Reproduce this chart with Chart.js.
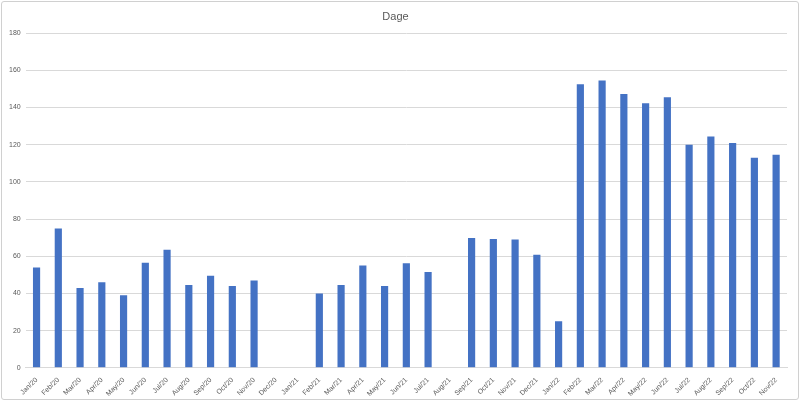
<!DOCTYPE html>
<html>
<head>
<meta charset="utf-8">
<title>Dage</title>
<script src="https://cdn.jsdelivr.net/npm/chart.js@4"></script>
<style>
    html, body { margin: 0; padding: 0; background: #fff; }
    #wrap {
        position: relative;
        width: 798px;
        height: 399px;
        margin: 1px;
        border: 1px solid #d0d0d0;
        border-radius: 3px;
        box-sizing: border-box;
    }
    #chart { display: block; }
</style>
</head>
<body>
<div id="wrap"><canvas id="chart"></canvas></div>
<script>
// Chart data
const months = [
    'Jan/20', 'Feb/20', 'Mar/20', 'Apr/20', 'May/20', 'Jun/20', 'Jul/20', 'Aug/20', 'Sep/20', 'Oct/20', 'Nov/20', 'Dec/20',
    'Jan/21', 'Feb/21', 'Mar/21', 'Apr/21', 'May/21', 'Jun/21', 'Jul/21', 'Aug/21', 'Sep/21', 'Oct/21', 'Nov/21', 'Dec/21',
    'Jan/22', 'Feb/22', 'Mar/22', 'Apr/22', 'May/22', 'Jun/22', 'Jul/22', 'Aug/22', 'Sep/22', 'Oct/22', 'Nov/22'
];
const dage = [
    54, 75, 43, 46, 39, 56.5, 63.5, 44.5, 49.5, 44, 47, 0,
    0, 40, 44.5, 55, 44, 56.3, 51.6, 0, 69.8, 69.3, 69, 60.8,
    25, 152.5, 154.5, 147.3, 142.3, 145.6, 120, 124.4, 121, 113, 114.6
];
const yTicks = [0, 20, 40, 60, 80, 100, 120, 140, 160, 180];

const textGray = '#595959';
const gridGray = '#d9d9d9';

document.addEventListener('DOMContentLoaded', () => {
    const ctx = document.getElementById('chart').getContext('2d');
    new Chart(ctx, {
        type: 'bar',
        data: {
            labels: months,
            datasets: [{
                label: 'Dage',
                data: dage,
                backgroundColor: '#4472c4',
                borderWidth: 0,
                categoryPercentage: 1.0,
                barPercentage: 0.33
            }]
        },
        options: {
            responsive: true,
            maintainAspectRatio: false,
            animation: false,
            layout: { padding: { left: 2, right: 11, top: 2, bottom: 1 } },
            plugins: {
                legend: { display: false },
                tooltip: { enabled: false },
                title: {
                    display: true,
                    text: 'Dage',
                    color: textGray,
                    font: { family: 'Liberation Sans, Arial, sans-serif', size: 11, weight: 'normal' },
                    padding: { top: 6, bottom: 10 }
                }
            },
            scales: {
                x: {
                    grid: { display: false },
                    border: { color: gridGray },
                    ticks: {
                        color: textGray,
                        font: { family: 'Liberation Sans, Arial, sans-serif', size: 7 },
                        minRotation: 45,
                        maxRotation: 45,
                        autoSkip: false,
                        padding: 0
                    }
                },
                y: {
                    min: 0,
                    max: 180,
                    afterBuildTicks: (axis) => {
                        axis.ticks = yTicks.map(v => ({ value: v }));
                    },
                    grid: { color: gridGray, drawTicks: false },
                    border: { display: false },
                    ticks: {
                        color: textGray,
                        font: { family: 'Liberation Sans, Arial, sans-serif', size: 7 },
                        padding: 5
                    }
                }
            }
        }
    });
});
</script>
</body>
</html>
